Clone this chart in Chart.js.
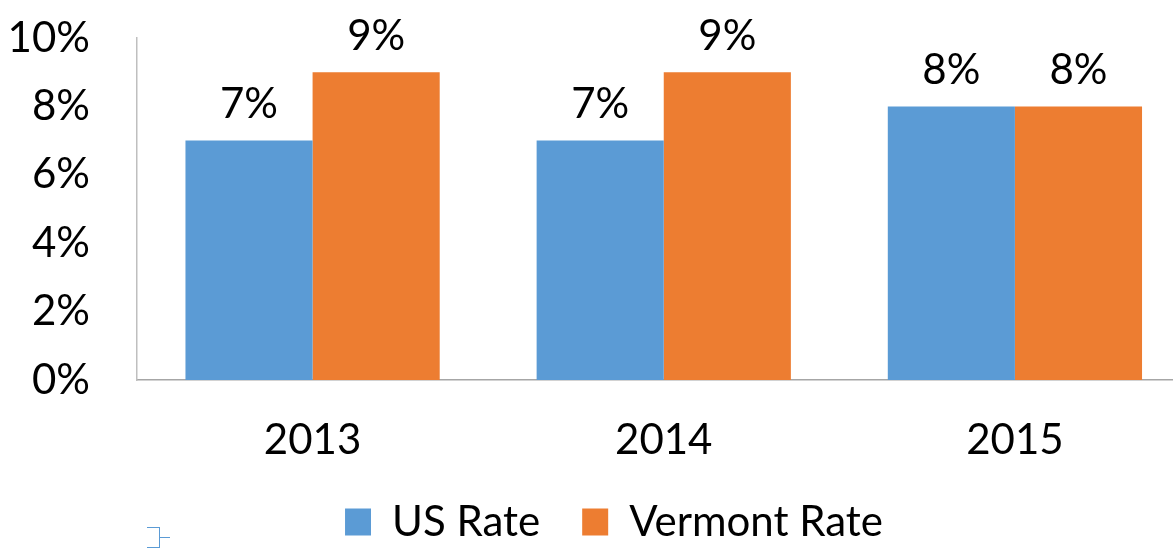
<!DOCTYPE html>
<html>
<head>
<meta charset="utf-8">
<script src="https://cdn.jsdelivr.net/npm/chart.js@4/dist/chart.umd.min.js"></script>
<style>
    html, body { margin: 0; padding: 0; overflow: hidden; background: #fff; }
    #wrap { position: absolute; left: 0; top: 0; width: 1228px; height: 548px; }
    /* small stray bracket mark at the bottom left */
    #mark { position: absolute; left: 147px; top: 527px; width: 12px; height: 19px;
            border: 1.5px solid #5B9BD5; border-left: none; }
    #mark::after { content: ''; position: absolute; left: 12px; top: 9px; width: 11px; border-top: 1.5px solid #5B9BD5; }
</style>
</head>
<body>
<div id="wrap"><canvas id="rateChart"></canvas></div>
<div id="mark"></div>
<script>
const years = ['2013', '2014', '2015'];
const usRate = [0.07, 0.07, 0.08];
const vermontRate = [0.09, 0.09, 0.08];
const yTicks = [0, 0.02, 0.04, 0.06, 0.08, 0.10];

const FONT = 'Lato, "Open Sans", sans-serif';
const pct = v => `${Math.round(v * 100)}%`;

// value labels above each bar
const barLabels = {
    id: 'barLabels',
    afterDatasetsDraw(chart) {
        const ctx = chart.ctx;
        ctx.save();
        ctx.font = `42px ${FONT}`;
        ctx.fillStyle = '#000';
        ctx.textAlign = 'center';
        ctx.textBaseline = 'middle';
        chart.data.datasets.forEach((ds, i) => {
            chart.getDatasetMeta(i).data.forEach((bar, j) => {
                ctx.fillText(pct(ds.data[j]), bar.x, bar.y - 36);
            });
        });
        ctx.restore();
    }
};

new Chart(document.getElementById('rateChart'), {
    type: 'bar',
    data: {
        labels: years,
        datasets: [
            { label: 'US Rate', data: usRate, backgroundColor: '#5B9BD5', borderWidth: 0 },
            { label: 'Vermont Rate', data: vermontRate, backgroundColor: '#ED7D31', borderWidth: 0 }
        ]
    },
    options: {
        responsive: true,
        maintainAspectRatio: false,
        animation: false,
        datasets: { bar: { categoryPercentage: 0.724, barPercentage: 1.0 } },
        layout: { padding: { top: 38, left: 0, right: 0, bottom: -5 } },
        plugins: {
            legend: {
                display: true,
                position: 'bottom',
                labels: {
                    font: { size: 42, family: FONT },
                    color: '#000',
                    boxWidth: 26,
                    boxHeight: 27,
                    padding: 42
                }
            },
            tooltip: { enabled: false }
        },
        scales: {
            x: {
                grid: { display: false, drawTicks: false },
                border: { display: true, color: '#A6A6A6', width: 1.5 },
                ticks: { font: { size: 42, family: FONT }, color: '#000', padding: 35 },
                afterFit(scale) { scale.height = 79; }
            },
            y: {
                min: 0,
                max: 0.1,
                afterBuildTicks(scale) { scale.ticks = yTicks.map(v => ({ value: v })); },
                grid: { display: false, drawTicks: false },
                border: { display: true, color: '#BFBFBF', width: 1.5 },
                ticks: { font: { size: 42, family: FONT }, color: '#000', padding: 47, callback: v => pct(v) },
                afterFit(scale) {
                    scale.width = 137;
                    scale.paddingTop = 0;
                    scale.paddingBottom = 0;
                }
            },
            // spacer on the right so the plot runs past the window edge while the legend stays centred
            y2: {
                position: 'right',
                display: true,
                grid: { display: false, drawTicks: false },
                border: { display: false },
                ticks: { display: false },
                afterFit(scale) {
                    scale.width = 37.5;
                    scale.paddingTop = 0;
                    scale.paddingBottom = 0;
                }
            }
        }
    },
    plugins: [barLabels]
});
</script>
</body>
</html>
